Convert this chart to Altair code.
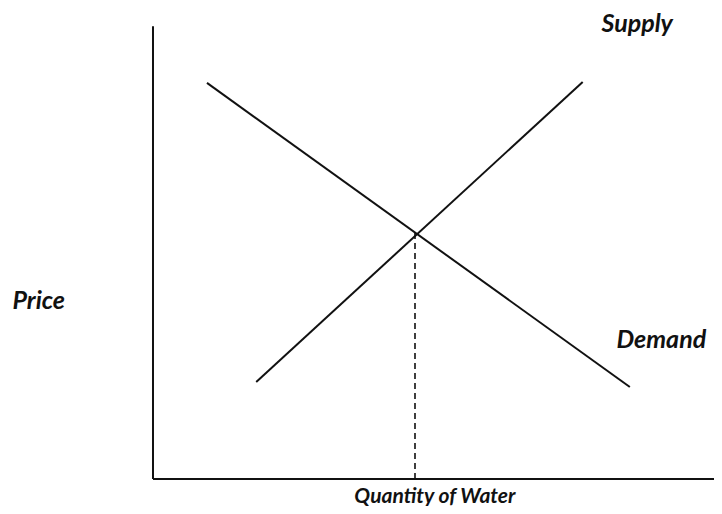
import altair as alt
import pandas as pd

# Data (quantity, price) in abstract units
demand_q = [1.03, 9.10]
demand_p = [8.05, 1.87]
supply_q = [1.97, 8.20]
supply_p = [1.97, 8.07]
eq_q = [5.0, 5.0]
eq_p = [5.0, 0.0]
yaxis_q = [0.0, 0.0]
yaxis_p = [0.0, 9.2]
xaxis_q = [0.0, 10.9]
xaxis_p = [0.0, 0.0]

curve_label_text = ["Supply", "Demand", "Price"]
curve_label_q = [9.24, 9.70, -2.18]
curve_label_p = [9.25, 2.82, 3.62]

axis_label_text = ["Quantity of Water"]
axis_label_q = [5.38]
axis_label_p = [-0.37]

rows = []
for name, qs, ps in [("Demand", demand_q, demand_p), ("Supply", supply_q, supply_p),
                     ("yaxis", yaxis_q, yaxis_p), ("xaxis", xaxis_q, xaxis_p)]:
    for i, (q, p) in enumerate(zip(qs, ps)):
        rows.append({"series": name, "q": q, "p": p, "o": i})
lines_df = pd.DataFrame(rows)
eq_df = pd.DataFrame({"q": eq_q, "p": eq_p, "o": [0, 1]})
labels_df = pd.DataFrame({"text": curve_label_text, "q": curve_label_q, "p": curve_label_p})
axis_df = pd.DataFrame({"text": axis_label_text, "q": axis_label_q, "p": axis_label_p})

xs = alt.Scale(domain=[-2.767, 10.706], nice=False, zero=False)
ys = alt.Scale(domain=[-0.549, 9.573], nice=False, zero=False)

base_x = lambda: alt.X("q:Q", scale=xs, axis=None)
base_y = lambda: alt.Y("p:Q", scale=ys, axis=None)

lines = alt.Chart(lines_df).mark_line(color="#111111", strokeWidth=2, clip=False).encode(
    x=base_x(), y=base_y(), detail="series:N", order="o:Q"
)
eq = alt.Chart(eq_df).mark_line(color="#111111", strokeWidth=1.6, strokeDash=[6, 4]).encode(
    x=base_x(), y=base_y(), order="o:Q"
)
labels = alt.Chart(labels_df).mark_text(
    font="Lato", fontStyle="italic", fontWeight="bold", fontSize=25, color="#111111",
    align="center", baseline="middle"
).encode(x=base_x(), y=base_y(), text="text:N")
axis_labels = alt.Chart(axis_df).mark_text(
    font="Lato", fontStyle="italic", fontWeight="bold", fontSize=21, color="#111111",
    align="center", baseline="middle"
).encode(x=base_x(), y=base_y(), text="text:N")

chart = alt.layer(lines, eq, labels, axis_labels).properties(
    width=706, height=498, padding=0, autosize="none"
).configure_view(stroke=None)

chart.save("out.html", embed_options={"renderer": "svg", "actions": False})
